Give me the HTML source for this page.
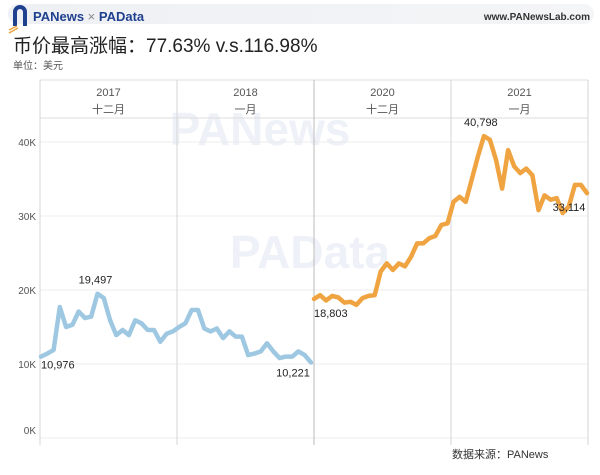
<!DOCTYPE html>
<html><head><meta charset="utf-8"><style>
body{margin:0;width:600px;height:475px;background:#fff;font-family:"Liberation Sans","Noto Sans CJK SC",sans-serif;overflow:hidden;position:relative}
.hdr{position:absolute;left:8px;top:4px;width:586px;height:20px;background:linear-gradient(90deg,#eef0f4,#f4f5f7);border-radius:10px}
</style></head><body>
<div class="hdr"></div>
<svg width="600" height="475" style="position:absolute;left:0;top:0">
<g>
<path d="M13 26 V12 a7 7 0 0 1 14 0 V26 h-4 V12 a3 3 0 0 0 -6 0 V26z" fill="#1f3f8f"/>
<path d="M9 30 l8 -4 M9 33 l9 -5" stroke="#e8a33b" stroke-width="1.5"/>
</g>
<text x="33" y="21" font-size="13" font-weight="bold" fill="#1f3f8f">PANews <tspan fill="#888" font-weight="normal">×</tspan> PAData</text>
<text x="590" y="20" font-size="10" font-weight="bold" fill="#333" text-anchor="end">www.PANewsLab.com</text>
<text x="13" y="52" font-size="19" fill="#222">币价最高涨幅：77.63% v.s.116.98%</text>
<text x="13" y="69" font-size="10" fill="#555">单位：美元</text>
<text x="260" y="145" font-size="46" font-weight="bold" fill="#eef1f8" text-anchor="middle">PANews</text>
<text x="310" y="268" font-size="46" font-weight="bold" fill="#eef1f8" text-anchor="middle">PAData</text>
<g id="grid"></g>
<g id="plot"></g>
<text x="452" y="458" font-size="11" fill="#333">数据来源：PANews</text>
</svg>
<script>
const yTicks=[0,10000,20000,30000,40000];
const yTickLabels=["0K","10K","20K","30K","40K"];
const panelYears=["2017","2018","2020","2021"];
const panelMonths=["十二月","一月","十二月","一月"];
const btcK2017=[11.0,11.4,11.9,17.7,15.0,15.3,17.1,16.2,16.4,19.5,18.9,15.9,13.9,14.6,13.9,15.9,15.5,14.6,14.6,13.0,14.1,14.4,15.0,15.5,17.3,17.3,14.8,14.4,14.8,13.5,14.4,13.7,13.7,11.2,11.4,11.7,12.8,11.7,10.8,11.0,11.0,11.7,11.2,10.2];
const btcK2020=[18.8,19.3,18.6,19.2,19.0,18.3,18.4,18.0,18.9,19.2,19.3,22.5,23.6,22.7,23.6,23.2,24.5,26.3,26.3,27.0,27.3,28.8,29.0,31.9,32.6,31.9,34.9,38.0,40.8,40.3,37.6,33.7,38.9,36.7,35.8,36.4,35.5,30.8,32.8,32.2,32.4,30.4,31.3,34.2,34.2,33.1];
const labels2017=[{i:0,t:"10,976",dx:0,dy:12},{i:9,t:"19,497",dx:-2,dy:-10},{i:43,t:"10,221",dx:-18,dy:14}];
const labels2020=[{i:0,t:"18,803",dx:0,dy:18},{i:28,t:"40,798",dx:-3,dy:-10},{i:45,t:"33,114",dx:-18,dy:18}];
const NS="http://www.w3.org/2000/svg";
const L=40,R=588,T=80,B=438,HB=118;
const yS=v=>B-v/10000*74;
function mk(tag,a,parent){const e=document.createElementNS(NS,tag);for(const k in a)e.setAttribute(k,a[k]);parent.appendChild(e);return e;}
const grid=document.getElementById('grid'),plot=document.getElementById('plot');
const panelW=(R-L)/4;
yTicks.forEach((v,i)=>{
 const y=yS(v);
 const g=mk('line',{x1:L,x2:R,y1:y,y2:y,stroke:'#ececec'},grid);
 
 
 const t=mk('text',{x:L-4,y:Math.min(y+4,434),'font-size':10,fill:'#555','text-anchor':'end'},grid);
 t.textContent=yTickLabels[i];
 
 
});
mk('line',{x1:L,x2:R,y1:HB,y2:HB,stroke:'#ddd'},grid);
mk('line',{x1:L,x2:R,y1:T,y2:T,stroke:'#ddd'},grid);
for(let p=0;p<=4;p++){const x=L+p*panelW;mk('line',{x1:x,x2:x,y1:T,y2:445,stroke:p==2?'#bbb':'#d6d6d6'},grid);}
panelYears.forEach((yr,p)=>{
 const cx=L+(p+0.5)*panelW;
 const a=mk('text',{x:cx,y:96,'font-size':11,fill:'#555','text-anchor':'middle'},grid);a.textContent=yr;
 
 
 const b=mk('text',{x:cx,y:113,'font-size':11,fill:'#555','text-anchor':'middle'},grid);b.textContent=panelMonths[p];
 
 
});
function series(data,x0,x1,color,name,labels){
 const n=data.length,xs=i=>x0+i*(x1-x0)/(n-1);
 const d=data.map((v,i)=>(i?'L':'M')+xs(i).toFixed(1)+' '+yS(v*1000).toFixed(1)).join(' ');
 const p=mk('path',{d:d,fill:'none',stroke:color,'stroke-width':4.5,'stroke-linejoin':'round','stroke-linecap':'round'},plot);
 
 
 labels.forEach(l=>{
  const t=mk('text',{x:xs(l.i)+l.dx,y:yS(data[l.i]*1000)+l.dy,'font-size':11,fill:'#222','text-anchor':l.i==0?'start':'middle'},plot);
  t.textContent=l.t;
  
  
 });
}
series(btcK2017,L+1,L+2*panelW-3,'#9ec8e2','line-2017',labels2017);
series(btcK2020,L+2*panelW,R-1,'#f0a441','line-2020',labels2020);
</script>
</body></html>
